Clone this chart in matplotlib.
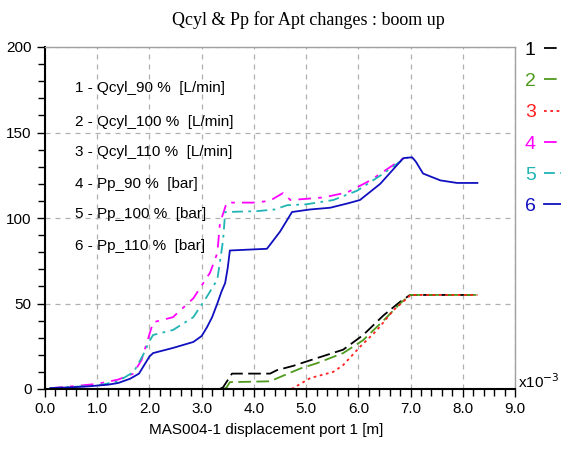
#----------------------------Importing libraries----------------------------------------

import numpy as np
import matplotlib
matplotlib.use('Agg')
import matplotlib.pyplot as plt
from matplotlib.ticker import MultipleLocator, FormatStrFormatter

#-----------------------------------Data---------------------------------------------------

labels = ['1 - Qcyl_90 %  [L/min]', '2 - Qcyl_100 %  [L/min]', '3 - Qcyl_110 %  [L/min]',
          '4 - Pp_90 %  [bar]', '5 - Pp_100 %  [bar]', '6 - Pp_110 %  [bar]']

# Qcyl curves (x in 1e-3 m)
q90_x = [3.35, 3.41, 3.58, 4.31, 4.44, 4.75, 5.2, 5.71, 6.09, 6.48, 6.8, 6.99, 8.28]
q90_y = [0, 1, 9, 9, 11, 13.5, 18, 23, 31.5, 43, 51, 55, 55]

q100_x = [3.42, 3.48, 3.54, 4.31, 4.5, 4.89, 5.2, 5.71, 6.09, 6.48, 6.8, 6.99, 8.28]
q100_y = [0, 1, 4, 4.5, 7, 12, 15, 21, 28.5, 40, 50, 55, 55]

q110_x = [4.72, 4.75, 5.08, 5.52, 5.71, 6.03, 6.36, 6.67, 6.93, 7.0, 8.28]
q110_y = [0, 0.5, 6.4, 10, 14, 24.6, 34.5, 46, 53, 55, 55]

# Pp curves
p90_x = [0.1, 0.5, 1.0, 1.4, 1.69, 1.85, 1.95, 2.07, 2.45, 2.84, 3.16, 3.3, 3.35, 3.48,
         4.0, 4.3, 4.56, 4.7, 5.33, 5.79, 6.23, 6.67, 6.9]
p90_y = [0.5, 1.5, 3, 5.5, 9, 17, 27, 39, 42, 53, 68, 79.5, 97, 109,
         109, 110, 114.6, 110.5, 112, 115, 122, 131, 135.5]

p100_x = [0.1, 0.5, 1.0, 1.4, 1.7, 1.88, 2.0, 2.07, 2.45, 2.84, 3.1, 3.3, 3.41, 3.45,
          4.06, 4.4, 4.64, 5.0, 5.52, 5.98, 6.48, 6.8, 6.95]
p100_y = [0.5, 1.2, 2, 4.5, 10, 20, 28, 31.6, 34.5, 42, 54, 64, 87, 103.5,
          104, 105, 107.5, 108, 110.5, 116, 126, 133, 135.5]

p110_x = [0.1, 0.5, 0.8, 1.2, 1.4, 1.63, 1.8, 1.88, 2.0, 2.07, 2.45, 2.84, 3.0, 3.1, 3.2,
          3.3, 3.38, 3.45, 3.5, 3.54, 4.25, 4.5, 4.73, 5.08, 5.46, 5.79, 6.03, 6.42, 6.86,
          7.03, 7.1, 7.24, 7.57, 7.89, 8.28]
p110_y = [0.5, 1, 1.5, 2.5, 3.5, 6, 9, 13, 19, 21, 24, 27.5, 31, 36, 42,
          50, 57, 62, 71, 81, 82, 92, 103.5, 105, 106, 108.5, 110.5, 120, 135,
          135.5, 133, 126, 122, 120.5, 120.5]

#-----------------------------------Plot---------------------------------------------------

sans = ['Liberation Sans Narrow', 'Liberation Sans', 'DejaVu Sans']

fig = plt.figure(figsize=(5.61, 4.55), dpi=100)
ax = fig.add_axes([45/561, 66/455, 470/561, 342/455])

l1, = ax.plot(q90_x, q90_y, color='black', lw=1.3, ls=(0, (7, 3)))
l2, = ax.plot(q100_x, q100_y, color='#4f9a1c', lw=1.3, ls=(0, (7, 3)))
l3, = ax.plot(q110_x, q110_y, color='#ff2020', lw=1.3, ls=(0, (1.5, 2)))
l4, = ax.plot(p90_x, p90_y, color='#ff00ff', lw=1.3, ls=(0, (7, 4, 2, 4)))
l5, = ax.plot(p100_x, p100_y, color='#20b4b4', lw=1.3, ls=(0, (6, 3, 1.5, 3)))
l6, = ax.plot(p110_x, p110_y, color='#1010c0', lw=1.3)

ax.set_xlim(0, 9)
ax.set_ylim(0, 200)
ax.xaxis.set_major_locator(MultipleLocator(1))
ax.xaxis.set_minor_locator(MultipleLocator(0.2))
ax.xaxis.set_major_formatter(FormatStrFormatter('%.1f'))
ax.yaxis.set_major_locator(MultipleLocator(50))
ax.yaxis.set_minor_locator(MultipleLocator(10))
ax.tick_params(which='both', direction='out', width=1, labelsize=11, color='black')
ax.tick_params(which='major', length=6)
ax.tick_params(which='minor', length=5)
for t in ax.get_xticklabels() + ax.get_yticklabels():
    t.set_family(sans)

ax.grid(True, which='major', color='#b0b0b0', ls=(0, (4, 4)), lw=0.9)
for s in ['left', 'bottom']:
    ax.spines[s].set_linewidth(1.5)
for s in ['top', 'right']:
    ax.spines[s].set_color('#a0a0a0')
    ax.spines[s].set_linewidth(1)

# text block inside the plot
ys = [88, 122, 152, 184, 214, 246]
for lab, yp in zip(labels, ys):
    fig.text(75/561, 1 - yp/455, lab, fontsize=11, family=sans, va='center', ha='left')

ax.set_xlabel('MAS004-1 displacement port 1 [m]', fontsize=11, family=sans)
ax.xaxis.set_label_coords(0.47, -0.1)
fig.text(308/561, 1 - 20/455, 'Qcyl & Pp for Apt changes : boom up', fontsize=13,
         family='Liberation Serif', ha='center', va='center')
fig.text(518/561, 1 - 382/455, r'x10$^{-3}$', fontsize=11, family=sans, va='center')

leg = ax.legend([l1, l2, l3, l4, l5, l6], ['1', '2', '3', '4', '5', '6'],
                loc='upper left', bbox_to_anchor=(1.0, 1.045), frameon=False,
                markerfirst=False, labelcolor='linecolor', handlelength=1.6,
                handletextpad=0.4, labelspacing=0.7, borderaxespad=0.1,
                prop={'family': sans, 'size': 14})

plt.savefig('out.png', dpi=100)
